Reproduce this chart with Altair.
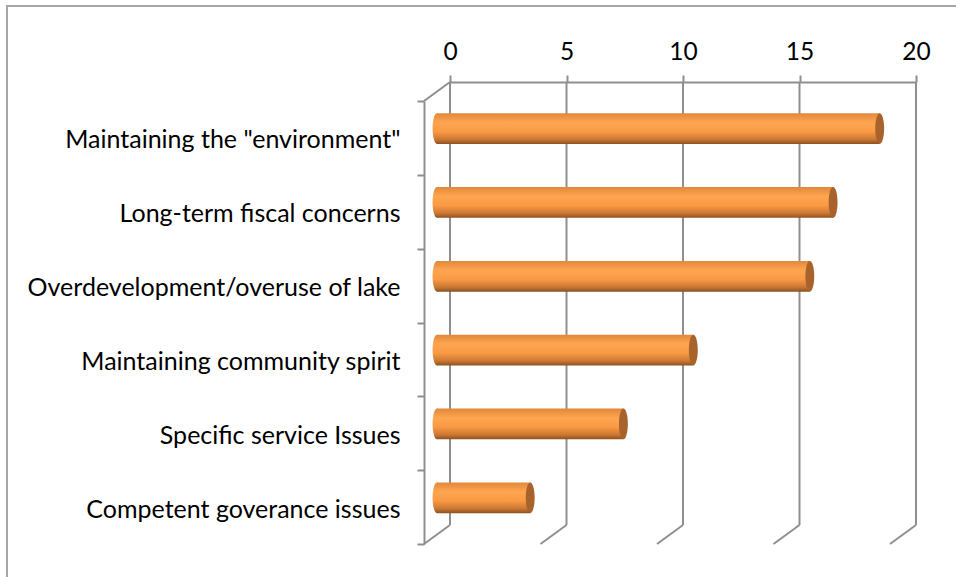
import altair as alt
import pandas as pd

categories = [
    'Maintaining the "environment"',
    "Long-term fiscal concerns",
    "Overdevelopment/overuse of lake",
    "Maintaining community spirit",
    "Specific service Issues",
    "Competent goverance issues",
]
values = [19, 17, 16, 11, 8, 4]
tick_values = [0, 5, 10, 15, 20]

bars_df = pd.DataFrame({"category": categories, "value": values})
ticks_df = pd.DataFrame({"tick": tick_values})
one_df = pd.DataFrame({"a": [0]})

W, H = 466, 443
DX, DY = 26, 19          # depth of the 3D box (pixels)
BX, BY = -13, -9.3       # bar sits at mid-depth
BAR_H = 30.7
GRID = "#8f8f8f"
FONT = "Lato"

x_scale = alt.Scale(domain=[0, 20], nice=False)
y_scale = alt.Scale(domain=categories, paddingInner=0, paddingOuter=0)

grad = alt.Gradient(
    gradient="linear",
    x1=0, x2=0, y1=0, y2=1,
    stops=[
        alt.GradientStop(color="#E0883A", offset=0),
        alt.GradientStop(color="#FFA551", offset=0.3),
        alt.GradientStop(color="#F99A44", offset=0.6),
        alt.GradientStop(color="#CC7833", offset=0.85),
        alt.GradientStop(color="#8C5121", offset=1),
    ],
)
ellipse = "M 0 -1 A 0.29 1 0 1 1 0 1 A 0.29 1 0 1 1 0 -1 Z"

# back wall gridlines
grid = alt.Chart(ticks_df).mark_rule(color=GRID, strokeWidth=2).encode(
    x=alt.X("tick:Q", scale=x_scale,
            axis=alt.Axis(orient="top", values=tick_values, offset=DY,
                          domainColor=GRID, domainWidth=2, tickColor=GRID,
                          tickWidth=2, tickSize=7, labelFont=FONT,
                          labelFontSize=24.5, labelColor="black", labelPadding=11,
                          labelAngle=0, labelFlush=False, grid=False, title=None)),
    y=alt.value(-DY),
    y2=alt.value(H - DY),
)

# floor diagonals
floor = alt.Chart(ticks_df).mark_rule(color=GRID, strokeWidth=2, x2Offset=-DX).encode(
    x=alt.X("tick:Q", scale=x_scale),
    x2=alt.X2("tick:Q"),
    y=alt.value(H - DY),
    y2=alt.value(H),
)

# left wall top diagonal
wall_top = alt.Chart(one_df).mark_rule(color=GRID, strokeWidth=2, x2Offset=-DX).encode(
    x=alt.X(datum=0, scale=x_scale),
    x2=alt.X2(datum=0),
    y=alt.value(-DY),
    y2=alt.value(0),
)

left_end = alt.Chart(bars_df).mark_point(
    shape=ellipse, size=BAR_H ** 2, filled=True, fill=grad, opacity=1,
    strokeWidth=0, xOffset=BX, yOffset=BY,
).encode(
    x=alt.X(datum=0, scale=x_scale),
    y=alt.Y("category:N", scale=y_scale, sort=categories),
)

body = alt.Chart(bars_df).mark_bar(
    height=BAR_H, fill=grad, xOffset=BX, x2Offset=BX, yOffset=BY,
).encode(
    x=alt.X("value:Q", scale=x_scale),
    x2=alt.X2(datum=0),
    y=alt.Y("category:N", scale=y_scale, sort=categories,
            axis=alt.Axis(orient="left", offset=DX, domainColor=GRID,
                          domainWidth=2, tickColor=GRID, tickWidth=2,
                          tickSize=7, tickBand="extent", labelFont=FONT,
                          labelFontSize=25, labelColor="black", labelOffset=2,
                          labelPadding=17, labelLimit=500, title=None)),
)

cap = alt.Chart(bars_df).mark_point(
    shape=ellipse, size=BAR_H ** 2, filled=True, fill="#A8622B", opacity=1,
    strokeWidth=0, xOffset=BX, yOffset=BY,
).encode(
    x=alt.X("value:Q", scale=x_scale),
    y=alt.Y("category:N", scale=y_scale, sort=categories),
)

frame_left = alt.Chart(one_df).mark_rule(color="#a6a6a6", strokeWidth=2).encode(
    x=alt.value(-443), y=alt.value(-95), y2=alt.value(H + 40),
)
frame_top = alt.Chart(one_df).mark_rule(color="#a6a6a6", strokeWidth=2).encode(
    x=alt.value(-444), x2=alt.value(W + 60), y=alt.value(-95),
)

chart = alt.layer(
    frame_left, frame_top, grid, floor, wall_top, left_end, body, cap
).properties(
    width=W, height=H,
    padding={"left": 450, "top": 101, "right": 40, "bottom": 33},
    autosize=alt.AutoSizeParams(type="none"),
    background="white",
).configure_view(strokeWidth=0)

chart.save("out.html", embed_options={"renderer": "svg", "actions": False})
